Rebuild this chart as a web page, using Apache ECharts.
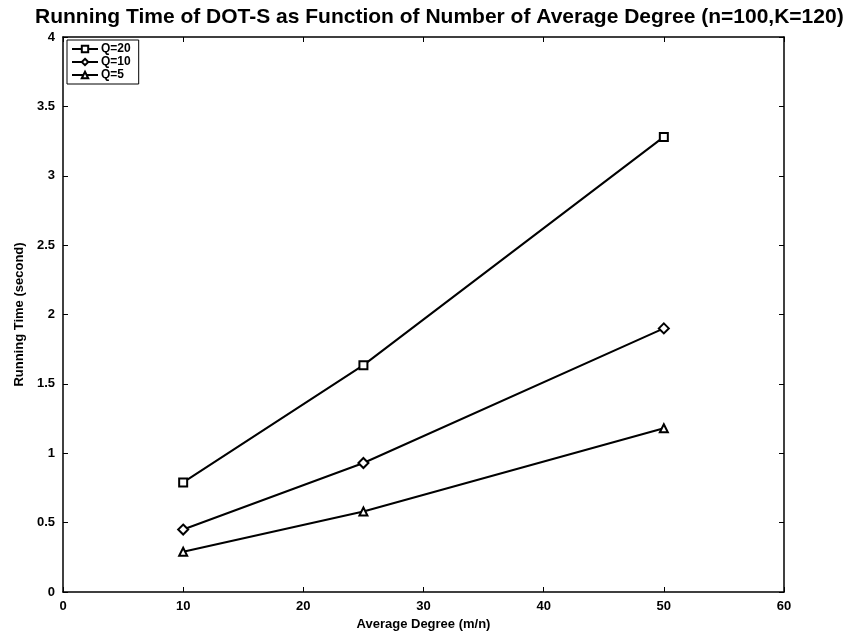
<!DOCTYPE html>
<html>
<head>
<meta charset="utf-8">
<script src="https://cdn.jsdelivr.net/npm/echarts@6/dist/echarts.min.js"></script>
<style>
  html, body { margin: 0; padding: 0; background: #fff; }
  #chart { width: 843px; height: 640px; }
</style>
</head>
<body>
<div id="chart"></div>
<script>
// average degree values on x
const degrees = [10, 25, 50];
// running time (second) for each Q
const q20 = [0.79, 1.635, 3.28];
const q10 = [0.45, 0.93, 1.90];
const q5 = [0.29, 0.58, 1.18];
const seriesNames = ['Q=20', 'Q=10', 'Q=5'];
const seriesSymbols = ['rect', 'diamond', 'triangle'];

const font = 'Liberation Sans, Arial, sans-serif';
const chart = echarts.init(document.getElementById('chart'));

function pairs(ys) {
    return degrees.map((x, i) => [x, ys[i]]);
}

function makeSeries(name, ys, symbol) {
    return {
        name: name,
        type: 'line',
        data: pairs(ys),
        symbol: symbol,
        symbolSize: symbol === 'diamond' ? 10 : 8,
        showSymbol: true,
        lineStyle: { color: '#000', width: 2 },
        itemStyle: { color: '#fff', borderColor: '#000', borderWidth: 2 },
        emphasis: { disabled: true },
        animation: false
    };
}

// box frame drawn by axes on all four sides
const axisLine = { show: true, onZero: false, lineStyle: { color: '#000', width: 1.5 } };
const axisTick = { show: true, inside: true, length: 5, lineStyle: { color: '#000' } };
const axisLabel = { color: '#000', fontFamily: font, fontWeight: 'bold', fontSize: 13 };
const nameStyle = { color: '#000', fontFamily: font, fontWeight: 'bold', fontSize: 13 };

const option = {
    backgroundColor: '#fff',
    animation: false,
    title: {
        text: 'Running Time of DOT-S as Function of Number of Average Degree (n=100,K=120)',
        left: 30,
        top: 2,
        textStyle: { color: '#000', fontFamily: font, fontWeight: 'bold', fontSize: 21 }
    },
    legend: {
        data: seriesNames,
        orient: 'vertical',
        left: 67,
        top: 40,
        padding: [3, 8, 3, 4],
        itemGap: 1,
        itemWidth: 26,
        itemHeight: 8,
        borderColor: '#000',
        borderWidth: 1,
        backgroundColor: '#fff',
        textStyle: { color: '#000', fontFamily: font, fontWeight: 'bold', fontSize: 12, padding: [0, 0, 0, -2] }
    },
    grid: { left: 63, right: 59, top: 37, bottom: 48 },
    xAxis: [
        {
            type: 'value',
            min: 0,
            max: 60,
            interval: 10,
            name: 'Average Degree (m/n)',
            nameLocation: 'middle',
            nameGap: 26,
            nameTextStyle: nameStyle,
            axisLine: axisLine,
            axisTick: axisTick,
            axisLabel: axisLabel,
            splitLine: { show: false }
        },
        {
            type: 'value',
            position: 'top',
            min: 0,
            max: 60,
            interval: 10,
            axisLine: axisLine,
            axisTick: axisTick,
            axisLabel: { show: false },
            splitLine: { show: false }
        }
    ],
    yAxis: [
        {
            type: 'value',
            min: 0,
            max: 4,
            interval: 0.5,
            name: 'Running Time (second)',
            nameLocation: 'middle',
            nameGap: 36,
            nameTextStyle: nameStyle,
            axisLine: axisLine,
            axisTick: axisTick,
            axisLabel: axisLabel,
            splitLine: { show: false }
        },
        {
            type: 'value',
            position: 'right',
            min: 0,
            max: 4,
            interval: 0.5,
            axisLine: axisLine,
            axisTick: axisTick,
            axisLabel: { show: false },
            splitLine: { show: false }
        }
    ],
    series: [
        makeSeries(seriesNames[0], q20, seriesSymbols[0]),
        makeSeries(seriesNames[1], q10, seriesSymbols[1]),
        makeSeries(seriesNames[2], q5, seriesSymbols[2])
    ]
};

chart.setOption(option);
</script>
</body>
</html>
